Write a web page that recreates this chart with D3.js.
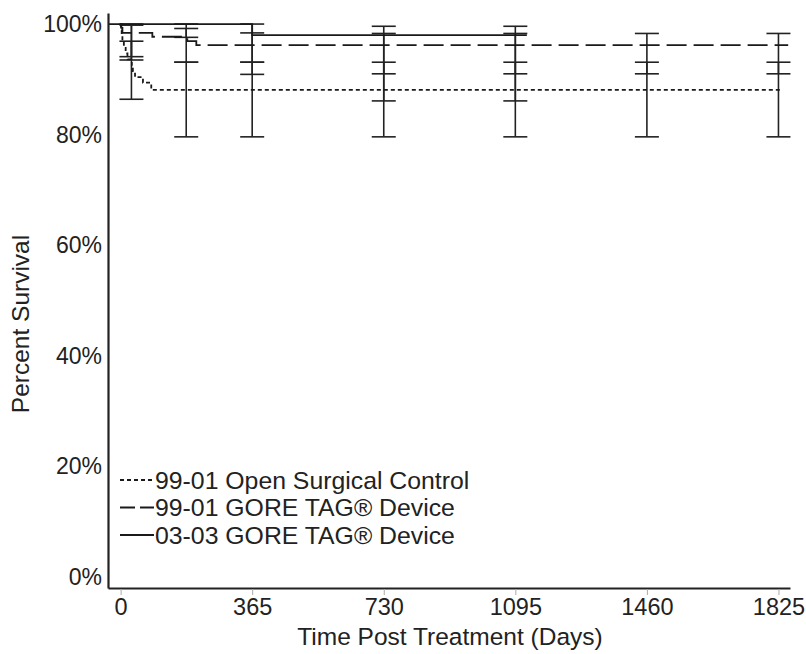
<!DOCTYPE html>
<html>
<head>
<meta charset="utf-8">
<script src="https://cdn.jsdelivr.net/npm/d3@7"></script>
<style>
  body { margin: 0; background: #fff; }
  text { font-family: "Liberation Sans", Arial, sans-serif; fill: #222; }
</style>
</head>
<body>
<script>
// tick values
var xTicks = [0, 365, 730, 1095, 1460, 1825];
var yTicks = [0, 20, 40, 60, 80, 100];

// Kaplan-Meier steps (day, percent surviving)
var controlDays = [0, 1, 3, 5, 9, 14, 19, 31, 34, 40, 62, 85, 1830];
var controlSurv = [100, 98.9, 97.9, 96.8, 95.7, 94.7, 93.6, 92.6, 91.5, 90.4, 89.4, 88.1, 88.1];

var tag9901Days = [0, 2, 5, 88, 185, 210, 1852];
var tag9901Surv = [100, 99.3, 98.4, 97.7, 96.9, 96.2, 96.2];

var tag0303Days = [-35, 365, 1127];
var tag0303Surv = [100, 98, 98];

// confidence intervals at the follow-up visits
var ciDays = [30, 182, 365, 730, 1095, 1460, 1825];
var controlLow = [86.4, 79.6, 79.6, 79.6, 79.6, 79.6, 79.6];
var controlHigh = [96.9, 93.1, 93.1, 93.1, 93.1, 93.1, 93.1];
var tag9901Low = [94.1, 93.1, 90.9, 91.0, 91.0, 91.0, 91.0];
var tag9901High = [99.8, 99.2, 98.4, 98.3, 98.3, 98.3, 98.3];
var tag0303Low = [93.5, 97.6, 93.1, 86.1, 86.1];
var tag0303High = [100, 100, 100, 99.6, 99.6];

var seriesNames = ["99-01 Open Surgical Control", "99-01 GORE TAG\u00ae Device", "03-03 GORE TAG\u00ae Device"];

var width = 806, height = 654;
var margin = { top: 13, right: 16, bottom: 66, left: 108 };

var svg = d3.select("body").append("svg")
    .attr("width", width)
    .attr("height", height);

var xScale = d3.scaleLinear()
    .domain([-35, 1857])
    .range([margin.left, width - margin.right]);

var yScale = d3.scaleLinear()
    .domain([-2, 102])
    .range([height - margin.bottom, margin.top]);

function steps(days, surv) {
    return days.map(function (d, i) { return { x: d, y: surv[i] }; });
}

var series = [
    { name: seriesNames[0], data: steps(controlDays, controlSurv), dash: "4,3", legendDash: "4,3",
      ci: ciDays.map(function (d, i) { return { x: d, lo: controlLow[i], hi: controlHigh[i] }; }) },
    { name: seriesNames[1], data: steps(tag9901Days, tag9901Surv), dash: "20,7", legendDash: "15,5",
      ci: ciDays.map(function (d, i) { return { x: d, lo: tag9901Low[i], hi: tag9901High[i] }; }) },
    { name: seriesNames[2], data: steps(tag0303Days, tag0303Surv), dash: null, legendDash: null,
      ci: tag0303Low.map(function (v, i) { return { x: ciDays[i], lo: v, hi: tag0303High[i] }; }) }
];

var line = d3.line()
    .x(function (d) { return xScale(d.x); })
    .y(function (d) { return yScale(d.y); })
    .curve(d3.curveStepAfter);

// error bars
var capHalf = 12;
series.forEach(function (s) {
    var g = svg.append("g").attr("class", "ci");
    g.selectAll(".stem").data(s.ci).enter().append("line")
        .attr("x1", function (d) { return xScale(d.x); })
        .attr("x2", function (d) { return xScale(d.x); })
        .attr("y1", function (d) { return yScale(d.lo); })
        .attr("y2", function (d) { return yScale(d.hi); })
        .style("stroke", "#222").style("stroke-width", 1.6);
    ["lo", "hi"].forEach(function (k) {
        g.selectAll(".cap-" + k).data(s.ci).enter().append("line")
            .attr("x1", function (d) { return xScale(d.x) - capHalf; })
            .attr("x2", function (d) { return xScale(d.x) + capHalf; })
            .attr("y1", function (d) { return yScale(d[k]); })
            .attr("y2", function (d) { return yScale(d[k]); })
            .style("stroke", "#222").style("stroke-width", 1.6);
    });
});

// survival curves
series.forEach(function (s) {
    svg.append("path")
        .datum(s.data)
        .attr("d", line)
        .style("fill", "none")
        .style("stroke", "#1a1a1a")
        .style("stroke-width", 1.8)
        .style("stroke-dasharray", s.dash);
});

// axes
var xAxis = svg.append("g")
    .attr("transform", "translate(0," + yScale(-2) + ")")
    .call(d3.axisBottom(xScale).tickValues(xTicks).tickSize(7).tickSizeOuter(0).tickPadding(3)
        .tickFormat(d3.format("d")));
xAxis.select(".domain").style("stroke", "#222").style("stroke-width", 2.2);
xAxis.selectAll(".tick line").style("stroke", "#aaa").attr("y1", 1);
xAxis.selectAll(".tick text").style("font-size", "23.5px").style("fill", "#222")
    .style("font-family", "'Liberation Sans', Arial, sans-serif");

var yAxis = svg.append("g")
    .attr("transform", "translate(" + xScale(-35) + ",0)")
    .call(d3.axisLeft(yScale).tickValues(yTicks).tickSize(0).tickSizeOuter(0).tickPadding(6)
        .tickFormat(function (d) { return d + "%"; }));
yAxis.select(".domain").style("stroke", "#222").style("stroke-width", 2.2);
yAxis.selectAll(".tick text").style("font-size", "23px").style("fill", "#222")
    .style("font-family", "'Liberation Sans', Arial, sans-serif");

// axis titles
svg.append("text")
    .attr("x", 450)
    .attr("y", 645)
    .style("text-anchor", "middle")
    .style("font-size", "24.5px")
    .text("Time Post Treatment (Days)");

svg.append("text")
    .attr("transform", "translate(29," + 324 + ") rotate(-90)")
    .style("text-anchor", "middle")
    .style("font-size", "24.5px")
    .text("Percent Survival");

// legend
var legend = svg.append("g").attr("transform", "translate(120,480)");
series.forEach(function (s, i) {
    var row = legend.append("g").attr("transform", "translate(0," + (i * 27.5) + ")");
    row.append("line")
        .attr("x1", 0).attr("x2", 34)
        .attr("y1", 0).attr("y2", 0)
        .style("stroke", "#1a1a1a")
        .style("stroke-width", 1.8)
        .style("stroke-dasharray", s.legendDash);
    row.append("text")
        .attr("x", 35)
        .attr("dy", "0.35em")
        .style("font-size", "24.8px")
        .text(s.name);
});
</script>
</body>
</html>
